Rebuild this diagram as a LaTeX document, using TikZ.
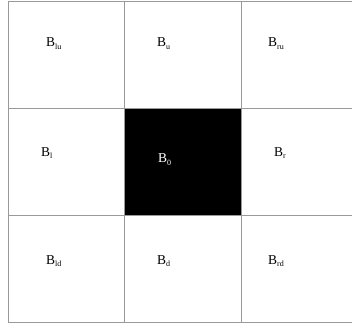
\documentclass[tikz,border=0pt]{standalone}
\usepackage{fontspec}
\setmainfont{Liberation Serif}
\newcommand{\lbl}[2]{#1\raisebox{-2.4pt}{\fontsize{8}{9}\selectfont #2}}
\begin{document}
\begin{tikzpicture}[x=1pt,y=1pt,
  cell/.style={draw=black!40, line width=0.9pt, rectangle, minimum width=116.7pt, minimum height=107pt, inner sep=0pt, anchor=north west},
  lab/.style={anchor=base west, inner sep=0pt, font=\fontsize{13.5}{15}\selectfont}]
\useasboundingbox (0,0) rectangle (352,329);
\clip (0,0) rectangle (352,329);
\fill[white] (0,0) rectangle (352,329);
% cells: top-left corners (image y flipped: tikz y = 329 - y)
\node[cell] (clu) at (7.7,328) {};
\node[cell] (cu) at (124.4,328) {};
\node[cell] (cru) at (241.1,328) {};
\node[cell] (cl) at (7.7,221) {};
\node[cell, fill=black] (c0) at (124.4,221) {};
\node[cell] (cr) at (241.1,221) {};
\node[cell] (cld) at (7.7,114) {};
\node[cell] (cd) at (124.4,114) {};
\node[cell] (crd) at (241.1,114) {};
% labels
\node[lab] (tlu) at (46,282) {\lbl{B}{lu}};
\node[lab] (tu) at (157,282) {\lbl{B}{u}};
\node[lab] (tru) at (268,282) {\lbl{B}{ru}};
\node[lab] (tl) at (41,172.5) {\lbl{B}{l}};
\node[lab, text=white] (t0) at (158,166) {\lbl{B}{0}};
\node[lab] (tr) at (274,172.5) {\lbl{B}{r}};
\node[lab] (tld) at (46,65) {\lbl{B}{ld}};
\node[lab] (td) at (157,65) {\lbl{B}{d}};
\node[lab] (trd) at (268,65) {\lbl{B}{rd}};
\end{tikzpicture}
\end{document}
